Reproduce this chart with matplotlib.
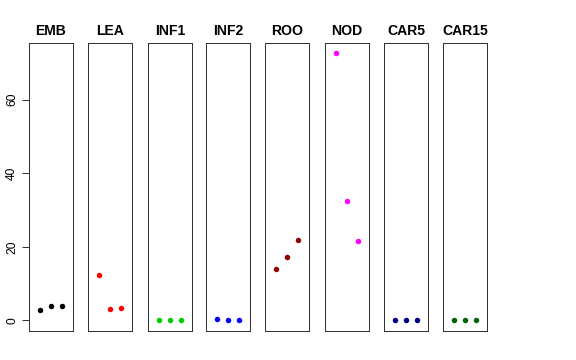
import matplotlib
matplotlib.use("Agg")
import matplotlib.pyplot as plt

plt.rcParams['font.family'] = ['Liberation Sans', 'DejaVu Sans']

tissues = ["EMB", "LEA", "INF1", "INF2", "ROO", "NOD", "CAR5", "CAR15"]
colors = ["black", "red", "#00CD00", "blue", "#8B0000", "magenta", "#00008B", "#006400"]
values = [
    [2.7, 3.8, 3.9],
    [12.2, 3.0, 3.3],
    [0.1, 0.0, 0.0],
    [0.3, 0.0, 0.1],
    [13.9, 17.1, 21.8],
    [72.6, 32.4, 21.5],
    [0.0, 0.0, 0.0],
    [0.0, 0.0, 0.0],
]
yticks = [0, 20, 40, 60]

W, H = 576, 360
fig = plt.figure(figsize=(8, 5), dpi=72)
lefts = [29, 88, 148, 206, 265, 325, 384, 443]
pw = 44
top, bottom = 43, 331
ymin, ymax = -2.9, 75.4

for i, name in enumerate(tissues):
    ax = fig.add_axes([lefts[i] / W, 1 - bottom / H, pw / W, (bottom - top) / H])
    ax.scatter([1, 2, 3], values[i], s=30, color=colors[i], zorder=3, linewidths=0)
    ax.set_xlim(0, 4)
    ax.set_ylim(ymin, ymax)
    ax.set_xticks([])
    for s in ax.spines.values():
        s.set_linewidth(1.0)
        s.set_color("#333333")
    ax.set_title(name, fontsize=14, fontweight="bold", pad=8)
    if i == 0:
        ax.set_yticks(yticks)
        ax.set_yticklabels([str(t) for t in yticks], rotation=90, va="center", fontsize=12)
        ax.tick_params(axis="y", length=7, width=1.0, pad=4, color="#333333")
    else:
        ax.set_yticks([])

fig.savefig("out.png", dpi=72)
